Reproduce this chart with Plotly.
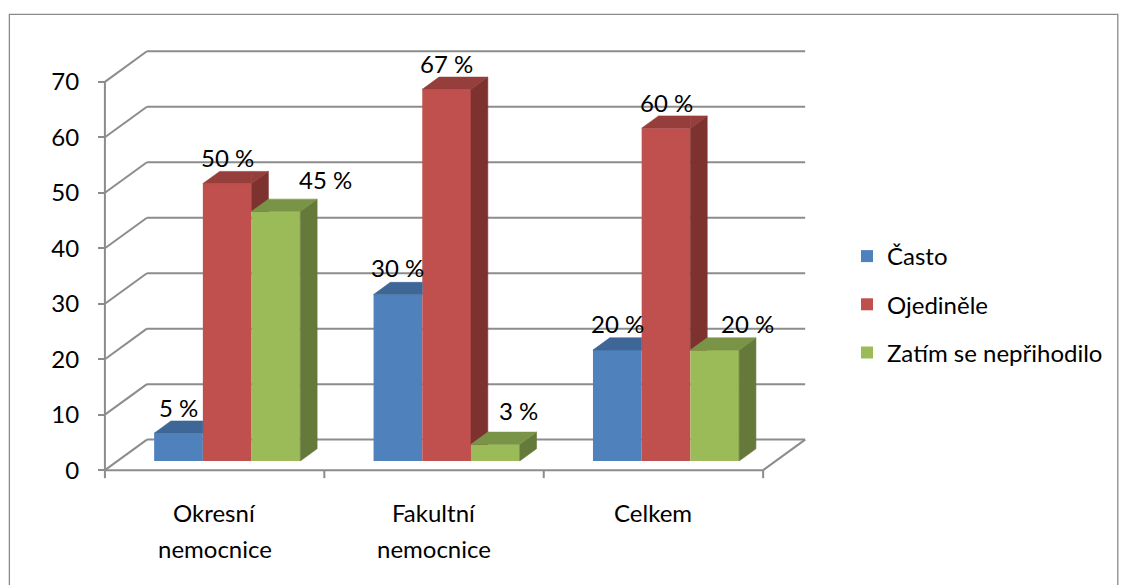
import plotly.graph_objects as go

# ---------------- data ----------------
cat_line1 = ["Okresní", "Fakultní", "Celkem"]
cat_line2 = ["nemocnice", "nemocnice", ""]
series_names = ["Často", "Ojediněle", "Zatím se nepřihodilo"]
casto = [5, 30, 20]
ojedinele = [50, 67, 60]
zatim = [45, 3, 20]
y_ticks = [0, 10, 20, 30, 40, 50, 60, 70]

series_values = [casto, ojedinele, zatim]

# ---------------- styling ----------------
front_colors = ["#4F81BD", "#C0504D", "#9BBB59"]
top_colors = ["#3E6696", "#963E3C", "#7A9447"]
side_colors = ["#34567E", "#7D3230", "#657A3A"]
# pixel nudges of the value labels, per series and category
label_dx = [[0, 0, 0], [0, 0, 0], [50, 23, 33]]
label_dy = [[26, 27, 27], [26, 26, 26], [32, 34, 27]]

FONT = "Lato"
FS = 24
GRID = "#8C8C8C"

W, H = 1123, 585
PX_X = 219.33          # px per category
PX_Y = 5.543           # px per value unit
X0_PX, Y0_PX = 105, 470
X_RANGE = [-0.15, 3.25]
Y_RANGE = [-2.5, 77]

ml = X0_PX + X_RANGE[0] * PX_X
plot_w = (X_RANGE[1] - X_RANGE[0]) * PX_X
mr = W - ml - plot_w
plot_h = (Y_RANGE[1] - Y_RANGE[0]) * PX_Y
mt = Y0_PX - Y_RANGE[1] * PX_Y
mb = H - mt - plot_h

# oblique depth of the 3-D box (in data units)
DX = 42 / PX_X
DY = 30.5 / PX_Y
D0, D1 = 0.3, 0.7                  # bars occupy this slice of the depth
BAR_W = 48.7 / PX_X
BASE = D0 * DY
BDX, BDY = (D1 - D0) * DX, (D1 - D0) * DY
N = len(cat_line1)


def clip(poly, f):
    """Keep the part of a polygon where f(x, y) >= 0."""
    out = []
    for i in range(len(poly)):
        p, q = poly[i], poly[(i + 1) % len(poly)]
        fp, fq = f(*p), f(*q)
        if fp >= 0:
            out.append(p)
        if (fp >= 0) != (fq >= 0):
            t = fp / (fp - fq)
            out.append((p[0] + t * (q[0] - p[0]), p[1] + t * (q[1] - p[1])))
    return out


def face(poly, color):
    xs = [p[0] for p in poly] + [poly[0][0]]
    ys = [p[1] for p in poly] + [poly[0][1]]
    return go.Scatter(x=xs, y=ys, mode="lines", fill="toself", fillcolor=color,
                      line=dict(color=color, width=0.6), hoverinfo="skip",
                      showlegend=False)


fig = go.Figure()

# front faces
centers = [[c + 0.5 + D0 * DX + (k - 1) * BAR_W for c in range(N)] for k in range(3)]
for k in range(3):
    fig.add_trace(go.Bar(
        x=centers[k], y=series_values[k], base=BASE, width=BAR_W,
        marker=dict(color=front_colors[k], line=dict(width=0)),
        name=series_names[k], legendgroup=series_names[k],
        hovertemplate="%{y} %<extra>" + series_names[k] + "</extra>",
    ))

# top and side faces
for c in range(N):
    for k in range(3):
        v = series_values[k][c]
        xl = centers[k][c] - BAR_W / 2
        xr = centers[k][c] + BAR_W / 2
        yt = BASE + v
        side = [(xr, BASE), (xr + BDX, BASE + BDY), (xr + BDX, yt + BDY), (xr, yt)]
        top = [(xl, yt), (xr, yt), (xr + BDX, yt + BDY), (xl + BDX, yt + BDY)]
        top_parts = [top]
        if k < 2:
            hn = BASE + series_values[k + 1][c]
            side = clip(side, lambda x, y: y - hn)
            top_parts = [clip(top, lambda x, y: xr - x),
                         clip(clip(top, lambda x, y: x - xr), lambda x, y: y - hn)]
        if len(side) >= 3:
            fig.add_trace(face(side, side_colors[k]))
        for tp in top_parts:
            if len(tp) >= 3:
                fig.add_trace(face(tp, top_colors[k]))

# walls, floor and axis lines
shapes = []


def seg(x0, y0, x1, y1):
    shapes.append(dict(type="line", xref="x", yref="y", x0=x0, y0=y0, x1=x1, y1=y1,
                       line=dict(color=GRID, width=2), layer="below"))


for t in y_ticks:
    seg(DX, t + DY, N + DX, t + DY)      # back wall gridline
    seg(0, t, DX, t + DY)                # side wall
seg(0, 0, 0, y_ticks[-1])                # value axis
seg(0, 0, N, 0)                          # floor front edge
seg(N, 0, N + DX, DY)                    # floor right edge
for c in range(N + 1):
    seg(c, 0, c, -8 / PX_Y)              # category tick marks


def px_to_paper_x(px):
    return (px - ml) / plot_w


def px_to_paper_y(py):
    return (H - mb - py) / plot_h


# outer frame
shapes.append(dict(type="rect", xref="paper", yref="paper",
                   x0=px_to_paper_x(9.5), x1=px_to_paper_x(1117.5),
                   y0=px_to_paper_y(600), y1=px_to_paper_y(14.5),
                   line=dict(color="#8A8A8A", width=1.3), layer="below"))

annotations = []
# value labels
for k in range(3):
    for c in range(N):
        v = series_values[k][c]
        annotations.append(dict(
            x=centers[k][c], y=BASE + v, xref="x", yref="y",
            text=f"{v} %", showarrow=False, yanchor="middle", xanchor="center",
            xshift=label_dx[k][c], yshift=label_dy[k][c],
            font=dict(family=FONT, size=FS, color="black")))

# category labels
for c in range(N):
    for line, shift in ((cat_line1[c], -42), (cat_line2[c], -78)):
        if line:
            annotations.append(dict(
                x=c + 0.5, y=0, xref="x", yref="y", text=line, showarrow=False,
                yanchor="middle", xanchor="center", yshift=shift,
                font=dict(family=FONT, size=FS, color="black")))

fig.update_layout(
    width=W, height=H,
    margin=dict(l=ml, r=mr, t=mt, b=mb, autoexpand=False),
    paper_bgcolor="white", plot_bgcolor="white",
    barmode="overlay",
    showlegend=True,
    legend=dict(x=847 / W, xref="container", xanchor="left",
                y=1 - 234 / H, yref="container", yanchor="top",
                font=dict(family=FONT, size=FS, color="black"),
                tracegroupgap=14, bgcolor="rgba(0,0,0,0)"),
    xaxis=dict(range=X_RANGE, visible=False, fixedrange=True),
    yaxis=dict(range=Y_RANGE, anchor="free", position=px_to_paper_x(X0_PX),
               tickvals=y_ticks, ticks="outside", ticklen=7, tickwidth=2,
               tickcolor=GRID, showline=False, showgrid=False, zeroline=False,
               ticklabelstandoff=14,
               tickfont=dict(family=FONT, size=FS, color="black"),
               fixedrange=True),
    shapes=shapes,
    annotations=annotations,
    font=dict(family=FONT),
)

fig.write_html("out.html")
